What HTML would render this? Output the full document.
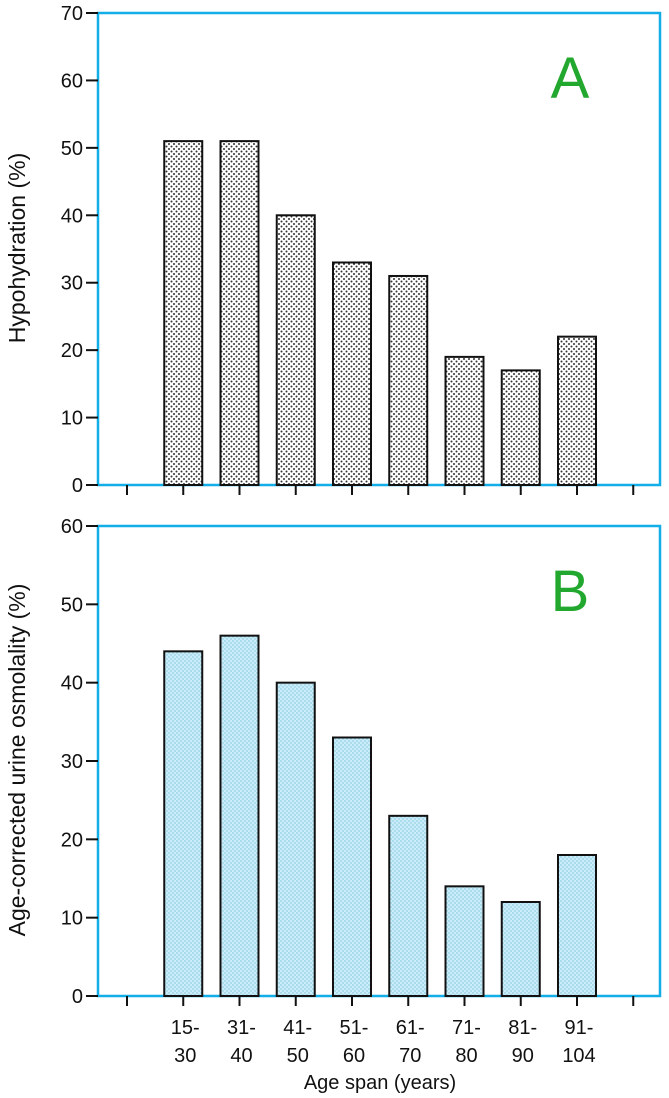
<!DOCTYPE html>
<html><head><meta charset="utf-8"><style>
body{margin:0;background:#fff}
svg{display:block}
text{font-family:"Liberation Sans",sans-serif;fill:#111}
</style></head><body>
<svg id="c" width="669" height="1098" xmlns="http://www.w3.org/2000/svg">
<defs>
<pattern id="pa" width="5" height="5" patternUnits="userSpaceOnUse"><rect width="5" height="5" fill="#fff"/><circle cx="1.5" cy="1.5" r="1" fill="#333"/><circle cx="4" cy="4" r="1" fill="#333"/></pattern>
<pattern id="pb" width="4" height="4" patternUnits="userSpaceOnUse"><rect width="4" height="4" fill="#c9ecf8"/><circle cx="1" cy="1" r="0.7" fill="#7fc4dc"/><circle cx="3" cy="3" r="0.7" fill="#7fc4dc"/></pattern>
</defs>
</svg>
<script>
const categories=["15-\n30","31-\n40","41-\n50","51-\n60","61-\n70","71-\n80","81-\n90","91-\n104"];
const hypohydration=[51,51,40,33,31,19,17,22];
const osmolality=[44,46,40,33,23,14,12,18];
const ticksA=[0,10,20,30,40,50,60,70];
const ticksB=[0,10,20,30,40,50,60];
const svg=document.getElementById('c');
const NS="http://www.w3.org/2000/svg";
function mk(t,a,p){const e=document.createElementNS(NS,t);for(const k in a)e.setAttribute(k,a[k]);(p||svg).appendChild(e);return e;}
const xPos=i=>127+56.25*(i+1);
function panel(vals,ticks,y0,yTop,max,fill,label,letter,ylab,ylabY,name){
  const y=v=>y0-(y0-yTop)*v/max;
  const g=mk('g',{});
  
  
  const fr=mk('rect',{x:98,y:yTop,width:562,height:y0-yTop,fill:'none',stroke:'#12aee8','stroke-width':2.5},g);
  
  
  ticks.forEach(t=>{
    mk('line',{x1:86,x2:98,y1:y(t),y2:y(t),stroke:'#111','stroke-width':2},g);
    const tx=mk('text',{x:83,y:y(t)+7,'text-anchor':'end','font-size':20},g);
    tx.textContent=t;
    
    
  });
  for(let i=-1;i<=8;i++){mk('line',{x1:xPos(i),x2:xPos(i),y1:y0,y2:y0+10,stroke:'#111','stroke-width':2},g);}
  vals.forEach((v,i)=>{
    const b=mk('rect',{x:xPos(i)-19,y:y(v),width:38,height:y0-y(v),fill:fill,stroke:'#111','stroke-width':2},g);
    
    
  });
  const L=mk('text',{x:570,y:letter,'text-anchor':'middle','font-size':58,style:'fill:#22a82e'},g);
  L.textContent=label;
  
  
  const yl=mk('text',{x:0,y:0,'text-anchor':'middle','font-size':23,transform:`translate(25,${ylabY}) rotate(-90)`},g);
  yl.textContent=ylab;
  
  
}
panel(hypohydration,ticksA,485,13,70,'url(#pa)','A',98,'Hypohydration (%)',248,'panel-a');
panel(osmolality,ticksB,996,526,60,'url(#pb)','B',611,'Age-corrected urine osmolality (%)',760,'panel-b');
categories.forEach((c,i)=>{
  const p=c.split('\n');
  p.forEach((s,j)=>{
    const t=mk('text',{x:xPos(i)+2,y:1034+j*28,'text-anchor':'middle','font-size':20});
    t.textContent=s;
    
    
  });
});
const xt=mk('text',{x:380,y:1089,'text-anchor':'middle','font-size':20});
xt.textContent='Age span (years)';


</script>
</body></html>
